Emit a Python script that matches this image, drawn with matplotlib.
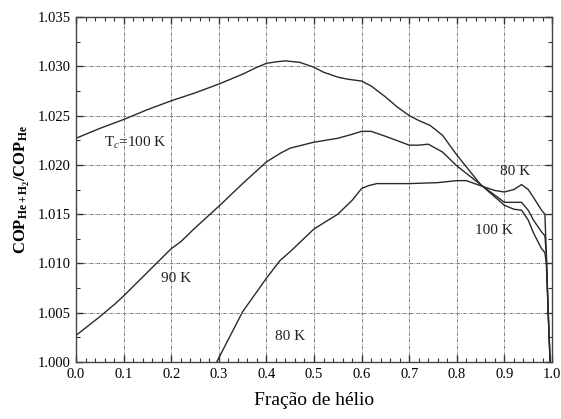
import matplotlib
matplotlib.use("Agg")
import matplotlib.pyplot as plt
from matplotlib.ticker import MultipleLocator, FormatStrFormatter

plt.rcParams['font.family'] = ['Liberation Serif', 'DejaVu Serif']
plt.rcParams['mathtext.fontset'] = 'custom'
plt.rcParams['mathtext.rm'] = 'Liberation Serif'
plt.rcParams['mathtext.it'] = 'Liberation Serif:italic'
plt.rcParams['mathtext.bf'] = 'Liberation Serif:bold'

# Helium fraction vs COP ratio for three cold-end temperatures
x_100 = [0.0, 0.05, 0.1, 0.15, 0.2, 0.25, 0.3, 0.35, 0.38, 0.4, 0.42, 0.44, 0.47,
         0.5, 0.52, 0.55, 0.57, 0.6, 0.62, 0.65, 0.674, 0.7, 0.72, 0.744, 0.77,
         0.8, 0.85, 0.9, 0.92, 0.936, 0.95, 0.961, 0.978, 0.985, 0.988, 0.992,
         0.996]
y_100 = [1.0227, 1.0237, 1.0246, 1.0256, 1.0265, 1.0273, 1.0282, 1.0292, 1.0299,
         1.0303, 1.03045, 1.03055, 1.0304, 1.0299, 1.0294, 1.0289, 1.0287, 1.0285,
         1.0280, 1.0269, 1.0259, 1.0250, 1.0245, 1.0240, 1.0230, 1.0210, 1.0180,
         1.0159, 1.0155, 1.0154, 1.0144, 1.0131, 1.0115, 1.0111, 1.0100, 1.0050,
         1.0000]

x_90 = [0.0, 0.05, 0.082, 0.1, 0.15, 0.2, 0.22, 0.25, 0.3, 0.35, 0.4, 0.43, 0.45,
        0.5, 0.55, 0.58, 0.6, 0.62, 0.65, 0.7, 0.72, 0.74, 0.77, 0.8, 0.85, 0.9,
        0.92, 0.936, 0.95, 0.961, 0.978, 0.985, 0.988, 0.992, 0.996]
y_90 = [1.0027, 1.0046, 1.0059, 1.0067, 1.0091, 1.0115, 1.0122, 1.0136, 1.0158,
        1.0181, 1.0203, 1.0212, 1.0217, 1.0223, 1.0227, 1.0231, 1.0234, 1.0234,
        1.0229, 1.0220, 1.0220, 1.0221, 1.0213, 1.0199, 1.0180, 1.0162, 1.0162,
        1.0162, 1.0154, 1.0144, 1.0132, 1.0128, 1.0110, 1.0050, 1.0000]

x_80 = [0.2955, 0.35, 0.4, 0.4286, 0.45, 0.5, 0.55, 0.58, 0.6, 0.615, 0.632, 0.7,
        0.76, 0.8, 0.82, 0.855, 0.88, 0.9, 0.92, 0.936, 0.95, 0.961, 0.978, 0.985,
        0.988, 0.992, 0.996]
y_80 = [1.0000, 1.0051, 1.0085, 1.0103, 1.0112, 1.0135, 1.0150, 1.0164, 1.0176,
        1.0179, 1.0181, 1.0181, 1.0182, 1.0184, 1.0184, 1.0178, 1.0174, 1.01725,
        1.0175, 1.0180, 1.0175, 1.0167, 1.0154, 1.0150, 1.0110, 1.0050, 1.0000]

x_ticks = [0.0, 0.1, 0.2, 0.3, 0.4, 0.5, 0.6, 0.7, 0.8, 0.9, 1.0]
y_ticks = [1.000, 1.005, 1.010, 1.015, 1.020, 1.025, 1.030, 1.035]

fig = plt.figure(figsize=(5.61, 4.19), dpi=100)
ax = fig.add_axes([0.1355, 0.136, 0.8485, 0.8234])

line_kw = dict(color='#2a2a2a', lw=1.0)
ax.plot(x_100, y_100, **line_kw)
ax.plot(x_90, y_90, **line_kw)
ax.plot(x_80, y_80, **line_kw)

ax.set_xlim(0.0, 1.0)
ax.set_ylim(1.000, 1.035)
ax.set_xticks(x_ticks)
ax.set_yticks(y_ticks)
ax.xaxis.set_major_formatter(FormatStrFormatter('%.1f'))
ax.yaxis.set_major_formatter(FormatStrFormatter('%.3f'))
ax.xaxis.set_minor_locator(MultipleLocator(0.02))
ax.yaxis.set_minor_locator(MultipleLocator(0.0025))
ax.tick_params(which='both', direction='in', top=True, right=True,
               labelsize=10.5, color='#333333')
ax.tick_params(which='major', length=5, width=1.0, pad=4)
ax.tick_params(which='minor', length=3, width=0.8)

ax.grid(True, which='major', color='#666666', lw=0.6,
        linestyle=(0, (4, 1.5, 1, 1.5)))
for s in ax.spines.values():
    s.set_color('#444444')
    s.set_linewidth(1.0)

ax.set_xlabel('Fração de hélio', fontsize=14, labelpad=8)
ax.set_ylabel(r'$\mathbf{COP_{He+H_2}/COP_{He}}$', fontsize=12, labelpad=4)

txt_kw = dict(fontsize=11, color='#222222', ha='center', va='center')
ax.text(0.125, 1.0222, r'T$_c$=100 K', **txt_kw)
ax.text(0.21, 1.0085, '90 K', **txt_kw)
ax.text(0.45, 1.0026, '80 K', **txt_kw)
ax.text(0.922, 1.0193, '80 K', **txt_kw)
ax.text(0.878, 1.0133, '100 K', **txt_kw)

fig.savefig('out.png', dpi=100)
